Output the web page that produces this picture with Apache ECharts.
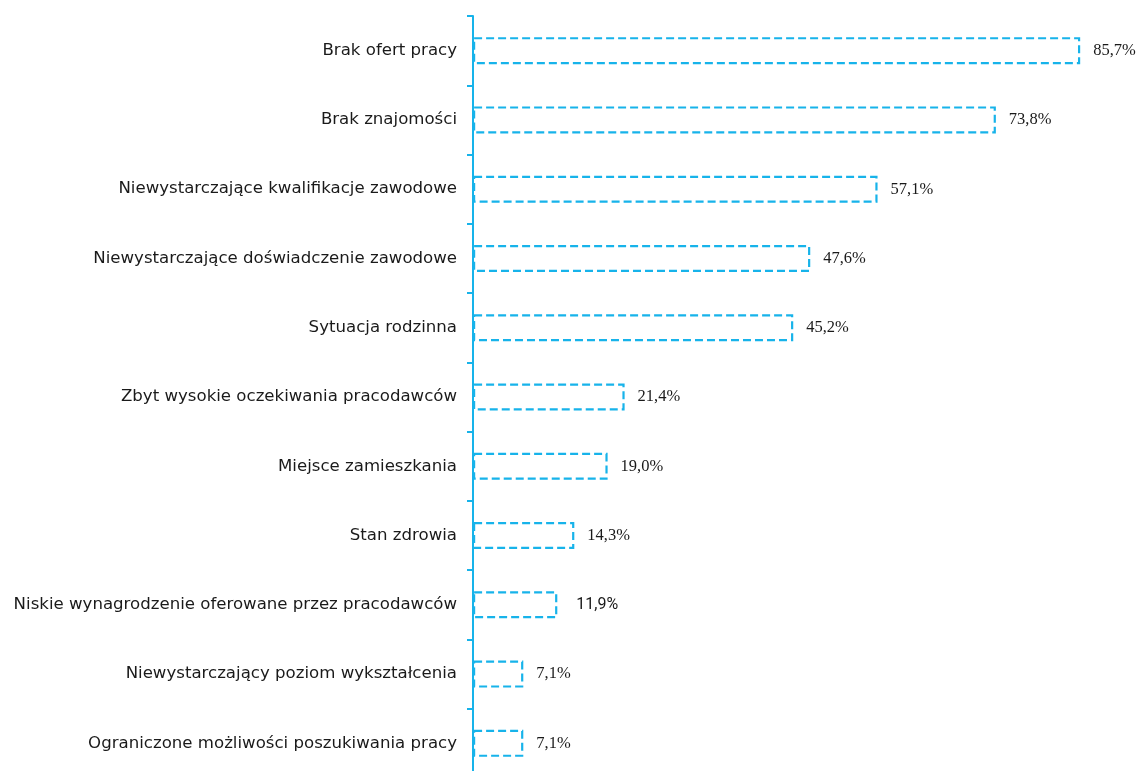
<!DOCTYPE html>
<html><head><meta charset="utf-8">
<script src="https://cdn.jsdelivr.net/npm/echarts@6/dist/echarts.min.js"></script>
<style>html,body{margin:0;padding:0;background:#fff}#c{width:1138px;height:771px}</style>
</head><body><div id="c"></div>
<script>
const categories = [
  "Brak ofert pracy",
  "Brak znajomości",
  "Niewystarczające kwalifikacje zawodowe",
  "Niewystarczające doświadczenie zawodowe",
  "Sytuacja rodzinna",
  "Zbyt wysokie oczekiwania pracodawców",
  "Miejsce zamieszkania",
  "Stan zdrowia",
  "Niskie wynagrodzenie oferowane przez pracodawców",
  "Niewystarczający poziom wykształcenia",
  "Ograniczone możliwości poszukiwania pracy"
];
const values = [85.7, 73.8, 57.1, 47.6, 45.2, 21.4, 19.0, 14.3, 11.9, 7.1, 7.1];
const valueLabels = ["85,7%", "73,8%", "57,1%", "47,6%", "45,2%", "21,4%", "19,0%", "14,3%", "11,9%", "7,1%", "7,1%"];
const sansLabelIndex = 8;

const cyan = '#17b3ea';
const chart = echarts.init(document.getElementById('c'));
chart.setOption({
  animation: false,
  grid: {left: 473, width: 708.5, top: 16, height: 762, outerBoundsMode: 'none', containLabel: false},
  xAxis: {type: 'value', min: 0, max: 100, show: false},
  yAxis: {
    type: 'category', data: categories, inverse: true,
    axisLine: {lineStyle: {color: cyan, width: 2}},
    axisTick: {show: true, length: 6, lineStyle: {color: cyan, width: 2}},
    axisLabel: {fontFamily: 'DejaVu Sans', fontSize: 16.6, color: '#1a1a1a', margin: 16}
  },
  series: [{
    type: 'bar',
    data: values.map((v, i) => ({
      value: v,
      label: {
        formatter: i === sansLabelIndex ? '{s|' + valueLabels[i] + '}' : valueLabels[i]
      }
    })),
    barWidth: 27,
    itemStyle: {color: 'rgba(0,0,0,0)', borderColor: cyan, borderWidth: 2.2, borderType: [8, 4]},
    label: {
      show: true, position: 'right', distance: 13,
      fontFamily: 'Liberation Serif', fontSize: 16.5, color: '#1a1a1a',
      rich: {s: {fontFamily: 'Roboto', fontSize: 16, color: '#1a1a1a', padding: [0, 0, 0, 6]}}
    }
  }]
});
</script></body></html>
